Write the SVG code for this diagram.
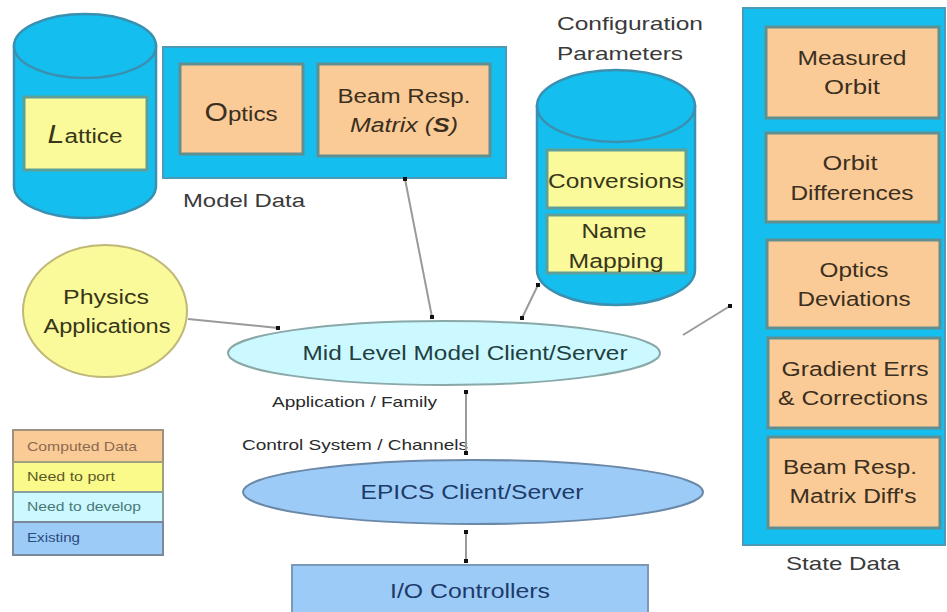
<svg xmlns="http://www.w3.org/2000/svg" width="947" height="612" viewBox="0 0 947 612">
<defs>
<style>
text{font-family:"Liberation Sans",Arial,sans-serif;}
.cyl{fill:#14BEEF;stroke:#3a90b0;stroke-width:2.5;}
.panel{fill:#14BEEF;stroke:#4a9ab8;stroke-width:2;}
.org{fill:#FBCB97;stroke:#5f8f90;stroke-width:3;}
.yel{fill:#FAFA9A;stroke:#5f9f98;stroke-width:3;}
.t{font-size:20px;fill:#3a2f20;text-anchor:middle;}
.ty{font-size:20px;fill:#38361a;text-anchor:middle;}
.lbl{font-size:19px;fill:#3a3a3a;}
.sm{font-size:15px;fill:#2a2a2a;}
.lg{font-size:13px;}
.conn{stroke:#9a9a9a;stroke-width:2;fill:none;marker-end:url(#dot);}
.both{marker-start:url(#dot);}
</style>
<marker id="dot" viewBox="0 0 6 6" refX="3" refY="3" markerWidth="2.2" markerHeight="2.2" markerUnits="strokeWidth">
<rect x="0" y="0" width="6" height="6" fill="#111"/>
</marker>
</defs>
<rect width="947" height="612" fill="#fff"/>

<g id="lattice-db">
<path class="cyl" d="M14,46 L14,186 A71,32 0 0 0 156,186 L156,46 Z"/>
<ellipse class="cyl" cx="85" cy="46" rx="71" ry="32"/>
<rect class="yel" x="24" y="97" width="123" height="73"/>
<text class="ty" x="85" y="143" textLength="75" lengthAdjust="spacingAndGlyphs"><tspan font-style="italic" font-size="25">L</tspan>attice</text>
</g>

<g id="model-data">
<rect class="panel" x="163" y="47" width="343" height="131"/>
<rect class="org" x="180" y="64" width="123" height="90"/>
<text class="t" x="241" y="121" textLength="73" lengthAdjust="spacingAndGlyphs"><tspan font-size="25">O</tspan>ptics</text>
<rect class="org" x="318" y="64" width="172" height="92"/>
<text class="t" x="404" y="103" font-size="18" textLength="133" lengthAdjust="spacingAndGlyphs">Beam Resp.</text>
<text class="t" x="404" y="132" font-size="18" textLength="108" lengthAdjust="spacingAndGlyphs"><tspan font-style="italic">Matrix (</tspan><tspan font-style="italic" font-weight="bold">S</tspan><tspan font-style="italic">)</tspan></text>
<text class="lbl" x="183" y="207" font-size="18" textLength="122" lengthAdjust="spacingAndGlyphs">Model Data</text>
</g>

<g id="config-db">
<text class="lbl" x="557" y="30" textLength="146" lengthAdjust="spacingAndGlyphs">Configuration</text>
<text class="lbl" x="557" y="60" textLength="126" lengthAdjust="spacingAndGlyphs">Parameters</text>
<path class="cyl" d="M537,106 L537,270 A79,35 0 0 0 695,270 L695,106 Z"/>
<ellipse class="cyl" cx="616" cy="106" rx="79" ry="36"/>
<rect class="yel" x="547" y="150" width="139" height="58"/>
<text class="ty" x="616" y="188" textLength="136" lengthAdjust="spacingAndGlyphs">Conversions</text>
<rect class="yel" x="547" y="215" width="139" height="58"/>
<text class="ty" x="614" y="238" textLength="65" lengthAdjust="spacingAndGlyphs">Name</text>
<text class="ty" x="616" y="268" textLength="95" lengthAdjust="spacingAndGlyphs">Mapping</text>
</g>

<g id="state-data">
<rect class="panel" x="743" y="8" width="202" height="537"/>
<rect class="org" x="766" y="27" width="173" height="91"/>
<text class="t" x="852" y="65" textLength="109" lengthAdjust="spacingAndGlyphs">Measured</text>
<text class="t" x="852" y="94" textLength="56" lengthAdjust="spacingAndGlyphs">Orbit</text>
<rect class="org" x="766" y="133" width="173" height="89"/>
<text class="t" x="850" y="170" textLength="55" lengthAdjust="spacingAndGlyphs">Orbit</text>
<text class="t" x="852" y="200" textLength="123" lengthAdjust="spacingAndGlyphs">Differences</text>
<rect class="org" x="767" y="240" width="173" height="88"/>
<text class="t" x="854" y="277" textLength="69" lengthAdjust="spacingAndGlyphs">Optics</text>
<text class="t" x="854" y="306" textLength="113" lengthAdjust="spacingAndGlyphs">Deviations</text>
<rect class="org" x="768" y="338" width="172" height="90"/>
<text class="t" x="855" y="376" textLength="147" lengthAdjust="spacingAndGlyphs">Gradient Errs</text>
<text class="t" x="853" y="405" textLength="150" lengthAdjust="spacingAndGlyphs">&amp; Corrections</text>
<rect class="org" x="768" y="437" width="172" height="91"/>
<text class="t" x="850" y="474" textLength="134" lengthAdjust="spacingAndGlyphs">Beam Resp.</text>
<text class="t" x="853" y="503" textLength="127" lengthAdjust="spacingAndGlyphs">Matrix Diff's</text>
<text class="lbl" x="843" y="570" text-anchor="middle" textLength="114" lengthAdjust="spacingAndGlyphs">State Data</text>
</g>

<g id="physics-apps">
<ellipse cx="105" cy="311" rx="82" ry="66" fill="#FAFA9A" stroke="#c0b878" stroke-width="2"/>
<text class="ty" x="106" y="304" textLength="86" lengthAdjust="spacingAndGlyphs">Physics</text>
<text class="ty" x="107" y="333" textLength="127" lengthAdjust="spacingAndGlyphs">Applications</text>
</g>

<g id="mid-level">
<ellipse cx="444" cy="353" rx="216" ry="32" fill="#CCF8FF" stroke="#8aa8a8" stroke-width="2"/>
<text x="465" y="360" font-size="20" fill="#1f4040" text-anchor="middle" textLength="325" lengthAdjust="spacingAndGlyphs">Mid Level Model Client/Server</text>
</g>

<g id="epics">
<ellipse cx="473" cy="492" rx="230" ry="32" fill="#9DCBF7" stroke="#6a88a8" stroke-width="2"/>
<text x="472" y="499" font-size="20" fill="#1d3b6a" text-anchor="middle" textLength="223" lengthAdjust="spacingAndGlyphs">EPICS Client/Server</text>
</g>

<g id="io-controllers">
<rect x="292" y="565" width="356" height="50" fill="#9DCBF7" stroke="#7a98b8" stroke-width="2"/>
<text x="470" y="598" font-size="20" fill="#1d3b6a" text-anchor="middle" textLength="160" lengthAdjust="spacingAndGlyphs">I/O Controllers</text>
</g>

<g id="legend">
<rect x="13" y="430" width="150" height="32" fill="#FBCB97" stroke="#a09080" stroke-width="2"/>
<rect x="13" y="462" width="150" height="30" fill="#FAFA8A" stroke="#a0a080" stroke-width="2"/>
<rect x="13" y="492" width="150" height="30" fill="#CCF8FF" stroke="#8aa0a0" stroke-width="2"/>
<rect x="13" y="522" width="150" height="33" fill="#9DCBF7" stroke="#7a8898" stroke-width="2"/>
<text class="lg" x="27" y="451" fill="#8a6a50" textLength="110" lengthAdjust="spacingAndGlyphs">Computed Data</text>
<text class="lg" x="27" y="481" fill="#5a5a28" textLength="88" lengthAdjust="spacingAndGlyphs">Need to port</text>
<text class="lg" x="27" y="511" fill="#4a7878" textLength="114" lengthAdjust="spacingAndGlyphs">Need to develop</text>
<text class="lg" x="27" y="542" fill="#2a4a80" textLength="53" lengthAdjust="spacingAndGlyphs">Existing</text>
</g>

<g id="labels">
<text class="sm" x="272" y="407" textLength="165" lengthAdjust="spacingAndGlyphs">Application / Family</text>
<text class="sm" x="242" y="450" textLength="226" lengthAdjust="spacingAndGlyphs">Control System / Channels</text>
</g>

<g id="connectors">
<path class="conn" d="M188,319 L278,328"/>
<path class="conn both" d="M405,179 L432,317"/>
<path class="conn both" d="M522,318 L538,285"/>
<path class="conn" d="M683,335 L730,306"/>
<path class="conn both" d="M466,392 L466,453"/>
<path class="conn both" d="M466,532 L466,561"/>
</g>
</svg>
